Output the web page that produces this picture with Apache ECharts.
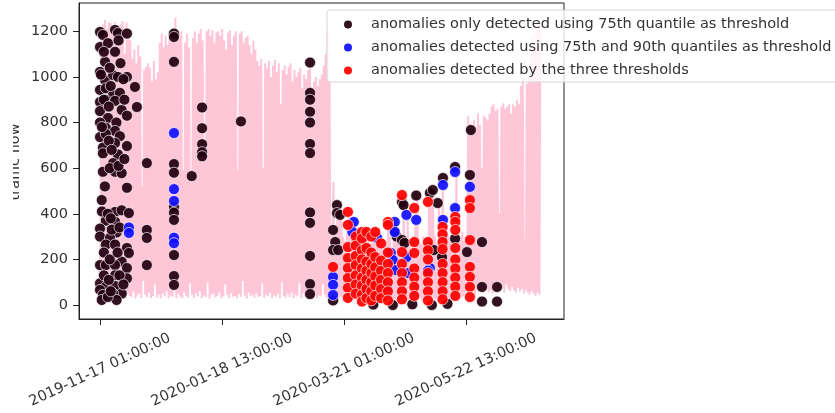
<!DOCTYPE html>
<html>
<head>
<meta charset="utf-8">
<script src="https://cdn.jsdelivr.net/npm/echarts@6/dist/echarts.min.js"></script>
<style>
html,body{margin:0;padding:0;background:#fff;}
#chart{width:835px;height:413px;}
</style>
</head>
<body>
<div id="chart"></div>
<script>
// x values are days since 2019-11-17 01:00:00
const xTickValues = [0, 62.5, 125, 187.5];
const xTickLabels = ['2019-11-17 01:00:00', '2020-01-18 13:00:00', '2020-03-21 01:00:00', '2020-05-22 13:00:00'];
const yTickValues = [0, 200, 400, 600, 800, 1000, 1200];
const yAxisName = 'traffic flow';
const seriesNames = [
  'anomalies only detected using 75th quantile as threshold',
  'anomalies detected using 75th and 90th quantiles as threshold',
  'anomalies detected by the three thresholds'
];

// daily peak (daytime) traffic flow, day 0..225
const dailyPeaks = [
  1180,1230,1250,1210,1240,1235,1190,1240,1150,1210,
  1230,1245,1100,1240,1170,1160,1080,1120,1060,1140,
  1090,520,1030,1045,1060,1040,980,1070,990,1020,
  1150,1190,1130,1180,1140,1200,1160,1190,1260,1180,
  1170,1200,590,1150,1190,1130,540,1170,1200,1150,
  1190,1210,1160,700,1200,1210,1180,1205,1150,1195,
  1200,1180,1210,1160,1120,1195,1205,1140,1180,1200,
  590,1190,1200,1150,1170,1180,1140,1100,1160,1120,
  1070,1050,1080,600,1060,1040,1070,1000,1050,1075,
  1020,1060,880,1030,1050,1010,1045,1060,980,1030,
  1000,1020,1040,950,1010,990,1030,1065,940,980,
  1000,960,990,1010,1050,1100,1205,980,20,540,
  330,440,400,
  395,300,280,350,
  408,300,290,364,
  300,280,260,320,
  290,320,300,260,300,280,
  320,290,260,270,240,280,
  364,300,228,364,
  364,300,280,250,482,
  272,395,260,240,300,
  425,480,290,270,300,
  280,260,452,491,504,
  300,270,447,300,557,
  340,320,300,280,260,300,
  605,330,300,320,
  280,300,
  830,790,770,810,780,840,790,600,830,820,810,840,
  870,880,850,860,400,870,885,860,
  870,880,840,880,870,900,880,
  960,990,290,970,1000,
  1100,1180,1150,1250,1220,1240
];
// daily low (night) traffic flow, day 0..225
const dailyLows = [
  40,30,55,25,45,35,60,28,50,32,
  45,38,95,30,52,40,35,60,28,42,
  50,30,105,45,35,55,30,40,90,33,
  45,28,50,38,60,30,42,35,100,30,
  48,36,30,55,40,32,95,45,30,50,
  38,60,30,42,35,100,28,45,50,33,
  40,55,30,38,90,45,30,52,36,40,
  30,48,35,105,42,30,55,38,46,32,
  50,35,40,95,30,45,38,55,30,42,
  36,50,30,100,40,32,48,35,55,30,
  45,38,95,30,52,36,40,30,48,35,
  55,30,42,38,90,45,30,35,10,15,
  25,30,20,35,28,22,30,18,25,32,
  20,28,35,22,30,18,26,32,20,28,
  24,30,18,26,34,22,28,20,30,25,
  18,26,32,22,28,20,30,24,18,28,
  26,20,30,24,32,18,28,22,30,26,
  20,28,24,32,18,26,30,22,28,20,
  30,24,28,20,26,32,40,55,45,60,
  50,70,45,65,55,80,50,60,75,55,
  65,50,80,70,60,85,75,55,90,70,
  60,80,65,55,75,60,70,50,65,55,
  45,60,50,40,55,45
];

// [day, traffic flow]
const only75 = [
  [0,1197],[1.5,1184],[7.7,1206],[9.2,1192],[13.8,1190],[0,1131],[4.1,1148],[7.7,1110],[2.6,1066],[0,1022],
  [2.6,986],[6.7,1008],[9.2,1000],[13.8,1000],[17.9,956],[0,943],[3,950],[6.7,920],[10.2,930],[0,890],
  [3,899],[7.7,895],[11.1,855],[18.9,868],[0,850],[4.1,820],[8.4,800],[13.8,830],[0,800],[3,777],
  [7.7,763],[0,736],[3,750],[10.2,740],[1.5,690],[7.7,710],[13.8,697],[1.5,665],[9.2,660],[6.7,622],
  [1.5,584],[7.7,584],[11.1,578],[13.8,514],[0.9,460],[7.7,408],[11.1,415],[14.8,403],[3,370],[7.7,365],
  [0,335],[8.5,318],[0,300],[5.1,294],[3,265],[7.7,265],[13.8,250],[14.8,228],[11.1,190],[0,175],
  [3,175],[7.7,175],[13.8,162],[7.7,130],[13.8,117],[0,95],[3,80],[7.7,83],[11.1,50],[0,66],
  [1.5,44],[6.7,50],[0.9,22],[8.5,22],[4,35],
  [0.5,1010],[2,900],[4.5,870],[5.5,960],[5,1040],[2,1110],[1,780],[4.5,720],[6,680],[5,600],
  [2.5,520],[1,410],[4,400],[5.5,380],[6,330],[2,230],[5,200],[2,130],[4.5,110],[9.5,1160],
  [10.5,1060],[12,990],[12.5,900],[9.5,610],[12.5,640],[10,340],[9,230],[10,130],[12,90],[5.5,60],
  [24,622],[24,329],[24,294],[24,175],
  [37.9,1190],[37.9,1175],[37.9,1066],[37.9,618],[37.9,580],[37.9,430],[37.9,405],[37.9,373],[37.9,219],[37.9,127],[37.9,88],
  [47,565],
  [52.3,866],[52.3,775],[52.3,705],[52.3,670],[52.3,652],
  [72.2,805],
  [107.6,1063],[107.6,930],[107.6,900],[107.6,847],[107.6,800],[107.6,706],[107.6,666],[107.6,406],[107.6,360],[107.6,215],[107.6,92],[107.6,48],
  [119.4,329],[120.5,276],[119.4,241],[119.4,20],[121.4,438],[121.4,403],[123,395],[122,241],
  [151,320],[152,300],[154.7,451],[155.5,438],[154.7,285],[156,272],[162,480],[169,491],[170.5,504],[173,447],
  [168.5,254],[171,241],[175.7,557],[175.2,210],[181.9,605],[181.9,291],[189.5,570],[188,232],[190,767],
  [195.7,276],[195.7,79],[195.7,15],[203.4,79],[203.4,15],[150,0],[160,3],[170,0],[140,2],[178,5]
];
const both7590 = [
  [14.8,340],[14.8,316],[37.9,754],[37.9,508],[37.9,456],[37.9,295],[37.9,271],
  [119.4,123],[119.4,88],[119.4,44],[130,364],[129.3,320],[142,294],[151,364],[151,320],
  [149,228],[150,197],[157,395],[157,210],[162,373],[169,162],[175.7,526],[175.7,373],
  [181.9,583],[181.9,425],[189.5,518],[151.5,153],[158,140],[168,150],[147,79]
];
const allThree = [
  [119.4,167],
  [127,408],[127,351],[127,254],[127,206],[127,162],[127,118],[127,75],[127,31],
  [131,300],[131,260],[131,215],[131,175],[131,130],[131,90],[131,50],
  [134.2,320],[134.2,291],[134.2,240],[134.2,200],[134.2,160],[134.2,120],[134.2,85],[134.2,45],[134.2,15],
  [136.5,320],[136.5,250],[136.5,190],[136.5,150],[136.5,110],[136.5,70],[136.5,30],
  [139,300],[139,230],[139,180],[139,140],[139,100],[139,60],[139,20],
  [141,320],[141,210],[141,165],[141,125],[141,85],[141,40],
  [144,270],[144,195],[144,150],[144,110],[144,70],[144,30],
  [147.5,364],[147.5,351],[147.5,230],[147.5,180],[147.5,140],[147.5,100],[147.5,60],[147.5,20],
  [154.7,482],[154.7,232],[154.7,180],[154.7,140],[154.7,100],[154.7,60],[154.7,25],
  [161,425],[161,276],[161,228],[161,160],[161,120],[161,80],[161,40],
  [168,452],[168,276],[168,240],[168,200],[168,140],[168,100],[168,60],[168,20],
  [175.5,342],[175.5,310],[175.5,276],[175.5,245],[175.5,180],[175.5,140],[175.5,100],[175.5,60],[175.5,25],
  [182,386],[182,364],[182,329],[182,250],[182,200],[182,160],[182,120],[182,80],[182,40],
  [189.5,460],[189.5,425],[189.5,285],[189.5,167],[189.5,123],[189.5,79],[189.5,35]
];

// trace: night low and daytime peak of each day
const flowLine = [];
for (let i = 0; i < dailyPeaks.length; i++) {
  flowLine.push([i + 0.15, dailyLows[i]]);
  flowLine.push([i + 0.6, dailyPeaks[i]]);
}

const FONT = 'DejaVu Sans';
const TXT = '#333333';
const FS = 14.5;
const chart = echarts.init(document.getElementById('chart'), null, {renderer: 'canvas'});
const scatterStyle = (color) => ({
  color: color, borderColor: 'rgba(255,255,255,0.9)', borderWidth: 0.8, opacity: 0.93
});
chart.setOption({
  animation: false,
  backgroundColor: '#ffffff',
  textStyle: {fontFamily: FONT},
  grid: {
    left: 79, right: 271, top: 3, bottom: 94,
    show: true, borderColor: '#222', borderWidth: 1,
    outerBoundsMode: 'none', containLabel: false
  },
  xAxis: {
    type: 'value', min: -10.76, max: 237.7,
    splitLine: {show: false},
    axisLine: {show: true, onZero: false, lineStyle: {color: '#222', width: 1}},
    axisTick: {show: true, length: 6, lineStyle: {color: '#222'}, customValues: xTickValues},
    axisLabel: {
      customValues: xTickValues,
      rotate: 25, align: 'center', verticalAlign: 'middle', margin: 51,
      fontSize: FS, color: TXT, fontFamily: FONT,
      formatter: (v) => {
        const k = xTickValues.findIndex(t => Math.abs(t - v) < 1e-6);
        return k >= 0 ? xTickLabels[k] : '';
      }
    }
  },
  yAxis: {
    type: 'value', min: -61.4, max: 1324,
    splitLine: {show: false},
    axisLine: {show: true, onZero: false, lineStyle: {color: '#222', width: 1}},
    axisTick: {show: true, length: 6, lineStyle: {color: '#222'}, customValues: yTickValues},
    axisLabel: {customValues: yTickValues, margin: 11, fontSize: FS, color: TXT, fontFamily: FONT,
      formatter: (v) => String(v)}
  },
  legend: {
    show: true, orient: 'vertical', left: 327, top: 10,
    padding: [7, 10, 4, 17], itemGap: 8, itemWidth: 36, itemHeight: 8,
    icon: 'circle', data: seriesNames,
    backgroundColor: 'rgba(255,255,255,0.8)', borderColor: '#d6d6d6', borderWidth: 1, borderRadius: 3,
    textStyle: {fontSize: FS, color: TXT, fontFamily: FONT},
    itemStyle: {borderWidth: 0}
  },
  graphic: [
    {type: 'text', x: 23, y: 162, rotation: Math.PI / 2, z: 10,
     style: {text: yAxisName, fill: TXT, font: '14.5px "DejaVu Sans"', align: 'center', verticalAlign: 'bottom'}},
    {type: 'rect', shape: {x: 0, y: 100, width: 13, height: 130}, z: 11, style: {fill: '#ffffff'}}
  ],
  series: [
    {
      name: 'traffic', type: 'line', data: flowLine, showSymbol: false, symbol: 'none',
      lineStyle: {color: '#ffc6d8', width: 2}, silent: true, z: 1, sampling: null,
      clip: true
    },
    {name: seriesNames[0], type: 'scatter', data: only75, symbolSize: 11, itemStyle: scatterStyle('#22000f'), z: 3},
    {name: seriesNames[1], type: 'scatter', data: both7590, symbolSize: 11, itemStyle: scatterStyle('#1010ff'), z: 4},
    {name: seriesNames[2], type: 'scatter', data: allThree, symbolSize: 11, itemStyle: scatterStyle('#ff0000'), z: 5}
  ]
});
</script>
</body>
</html>
